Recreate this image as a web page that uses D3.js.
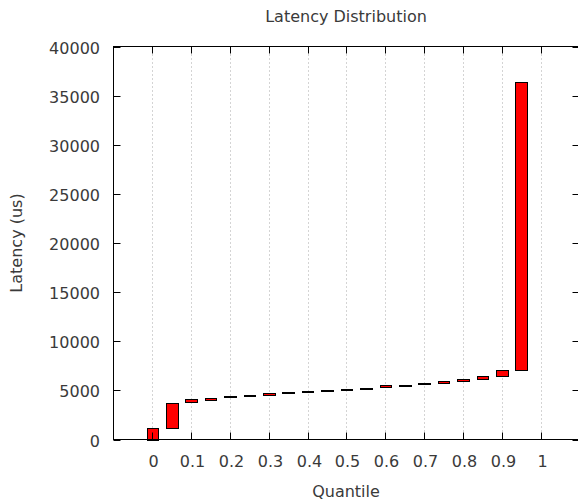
<!DOCTYPE html>
<html>
<head>
<meta charset="utf-8">
<script src="https://cdn.jsdelivr.net/npm/d3@7"></script>
<style>
  html, body { margin: 0; padding: 0; background: #fff; }
  svg text { font-family: "DejaVu Sans", sans-serif; fill: #3a3a3a; }
</style>
</head>
<body>
<div id="chart"></div>
<script>
// Latency distribution — one box per 5% quantile slice

const quantiles = [0, 0.05, 0.1, 0.15, 0.2, 0.25, 0.3, 0.35, 0.4, 0.45,
                   0.5, 0.55, 0.6, 0.65, 0.7, 0.75, 0.8, 0.85, 0.9, 0.95];
const lowUs  = [0, 1200, 3780, 4050, 4280, 4400, 4560, 4700, 4820, 4930,
                5060, 5180, 5300, 5480, 5600, 5700, 5950, 6150, 6500, 7050];
const highUs = [1200, 3750, 4100, 4250, 4380, 4500, 4760, 4800, 4920, 5030,
                5160, 5280, 5500, 5580, 5700, 5950, 6150, 6500, 7080, 36350];

const xTicks = [0, 0.1, 0.2, 0.3, 0.4, 0.5, 0.6, 0.7, 0.8, 0.9, 1];
const yTicks = [0, 5000, 10000, 15000, 20000, 25000, 30000, 35000, 40000];

const largeur = 578, hauteur = 502;
const marge = { gauche: 113.5, droite: 579.5, haut: 46.5, bas: 439.5 };
const boxWidth = 0.03;   // largeur des boîtes, en unités de quantile
const tickLen = 7;

const svg = d3.select("#chart").append("svg")
    .attr("width", largeur).attr("height", hauteur);

const x = d3.scaleLinear().domain([-0.1, 1.1]).range([marge.gauche, marge.droite]);
const y = d3.scaleLinear().domain([0, 40000]).range([marge.bas, marge.haut]);

// grille verticale pointillée
svg.append("g").selectAll("line").data(xTicks).join("line")
    .attr("x1", d => Math.round(x(d)) + 0.5).attr("x2", d => Math.round(x(d)) + 0.5)
    .attr("y1", marge.haut).attr("y2", marge.bas)
    .attr("stroke", "#a8a8a8").attr("stroke-width", 1)
    .attr("stroke-dasharray", "1,3");

// boîtes
const donnees = quantiles.map((q, i) => ({ q, bas: lowUs[i], haut: highUs[i] }));
svg.append("g").selectAll("rect").data(donnees).join("rect")
    .attr("x", d => Math.round(x(d.q - boxWidth / 2)) + 0.5)
    .attr("width", d => Math.round(x(d.q + boxWidth / 2)) - Math.round(x(d.q - boxWidth / 2)))
    .attr("y", d => Math.round(y(d.haut)) + 0.5)
    .attr("height", d => Math.max(1, Math.round(y(d.bas)) - Math.round(y(d.haut))))
    .attr("fill", "#ff0000").attr("stroke", "#000").attr("stroke-width", 1);

// cadre
svg.append("rect")
    .attr("x", marge.gauche).attr("y", marge.haut)
    .attr("width", marge.droite - marge.gauche).attr("height", marge.bas - marge.haut)
    .attr("fill", "none").attr("stroke", "#000").attr("stroke-width", 1);

// graduations X (bas + miroir haut)
const gx = svg.append("g");
xTicks.forEach(t => {
    const px = Math.round(x(t)) + 0.5;
    gx.append("line").attr("x1", px).attr("x2", px)
        .attr("y1", marge.bas).attr("y2", marge.bas - tickLen).attr("stroke", "#000");
    gx.append("line").attr("x1", px).attr("x2", px)
        .attr("y1", marge.haut).attr("y2", marge.haut + tickLen).attr("stroke", "#000");
    gx.append("text").attr("x", px + 1).attr("y", 467)
        .attr("text-anchor", "middle").attr("font-size", 16).text(t);
});

// graduations Y (gauche + miroir droite)
const gy = svg.append("g");
yTicks.forEach(t => {
    const py = Math.round(y(t)) + 0.5;
    gy.append("line").attr("x1", marge.gauche).attr("x2", marge.gauche + tickLen)
        .attr("y1", py).attr("y2", py).attr("stroke", "#000");
    gy.append("line").attr("x1", marge.droite).attr("x2", marge.droite - tickLen)
        .attr("y1", py).attr("y2", py).attr("stroke", "#000");
    gy.append("text").attr("x", 100).attr("y", py + 6)
        .attr("text-anchor", "end").attr("font-size", 16).text(t);
});

// titres
svg.append("text").attr("x", 346).attr("y", 22)
    .attr("text-anchor", "middle").attr("font-size", 16).text("Latency Distribution");
svg.append("text").attr("x", 346).attr("y", 497)
    .attr("text-anchor", "middle").attr("font-size", 16).text("Quantile");
svg.append("text").attr("transform", "translate(22,243) rotate(-90)")
    .attr("text-anchor", "middle").attr("font-size", 16).text("Latency (us)");
</script>
</body>
</html>
